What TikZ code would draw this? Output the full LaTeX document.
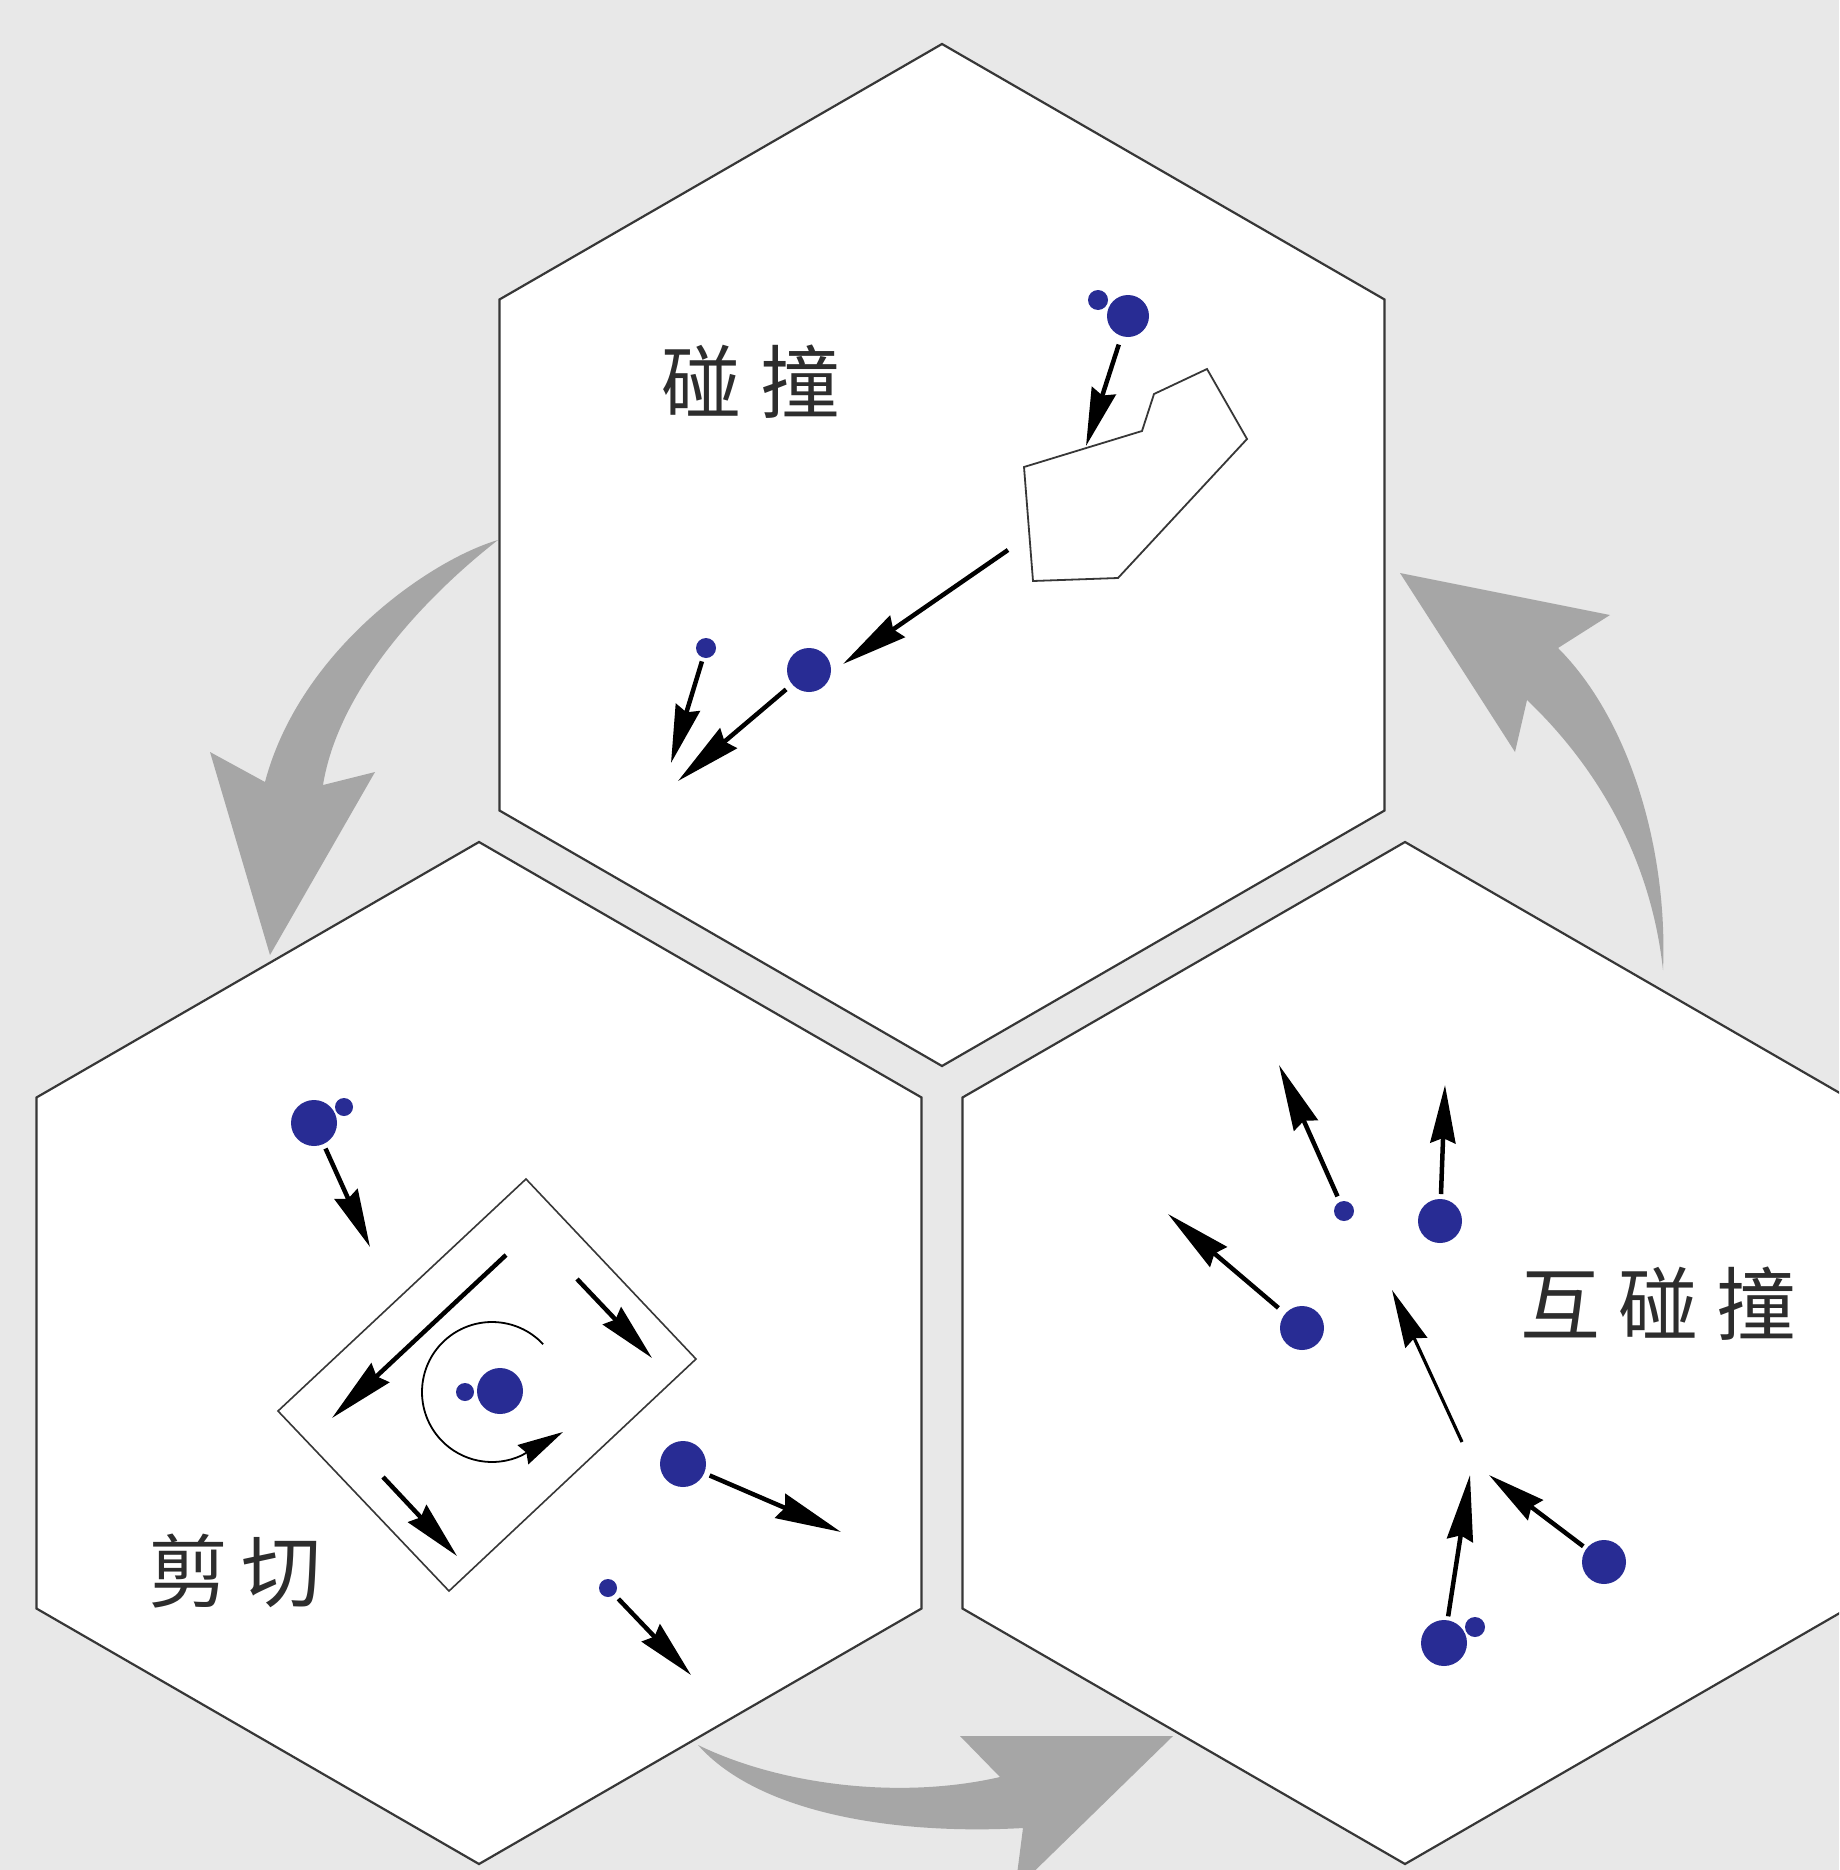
\documentclass[tikz,border=0pt]{standalone}
\usepackage{fontspec}
\newfontfamily\cjk{Noto Sans CJK SC}
\usetikzlibrary{arrows.meta}
\definecolor{bg}{RGB}{232,232,232}
\definecolor{garrow}{RGB}{166,166,166}
\definecolor{hexline}{RGB}{55,55,55}
\definecolor{ballblue}{RGB}{40,44,148}
\definecolor{txt}{RGB}{45,45,45}
\begin{document}
\begin{tikzpicture}[x=1pt,y=-1pt,
  hex/.style={draw=hexline, fill=white, line width=2.2pt, line join=miter},
  outline/.style={draw=hexline, fill=white, line width=1.8pt, line join=miter},
  ball/.style={circle, fill=ballblue, draw=none, inner sep=0pt, outer sep=0pt, minimum size=#1},
  ball/.default=44pt,
  arr/.style={line width=4.5pt, -{Stealth[length=58pt,width=25pt,inset=5pt]}},
  longarr/.style={line width=4.5pt, -{Stealth[length=66pt,width=26pt,inset=5pt]}},
  thinarr/.style={line width=3.2pt, -{Stealth[length=58pt,width=24pt,inset=5pt]}},
  arcarr/.style={line width=1.8pt, -{Stealth[length=46pt,width=22pt,inset=4pt]}},
  lbl/.style={font=\cjk\fontsize{80pt}{80pt}\selectfont, text=txt, inner sep=0pt, text height=70.4pt, text depth=9.6pt},
  hexpic/.pic={\path[hex] (90:511) -- (30:511) -- (-30:511) -- (-90:511) -- (-150:511) -- (150:511) -- cycle;}
]
\useasboundingbox (0,0) rectangle (1839,1870);
\clip (0,0) rectangle (1839,1870);
\fill[bg] (0,0) rectangle (1839,1870);

% grey cycle arrows
\fill[garrow] (498,540) .. controls (430,560) and (300,650) .. (265,782) -- (210,752) -- (270,955) -- (375,772) -- (323,785) .. controls (340,680) and (440,585) .. (498,540) -- cycle;
\fill[garrow] (1663,970) .. controls (1668,850) and (1630,720) .. (1558,648) -- (1610,615) -- (1400,573) -- (1515,752) -- (1527,700) .. controls (1590,760) and (1650,850) .. (1663,970) -- cycle;
\fill[garrow] (698,1745) .. controls (780,1785) and (900,1800) .. (1000,1777) -- (960,1736) -- (1173,1736) -- (1015,1890) -- (1023,1828) .. controls (900,1835) and (760,1815) .. (698,1745) -- cycle;

% hexagons
\pic at (942,555) {hexpic};
\pic at (479,1353) {hexpic};
\pic at (1405,1353) {hexpic};

% ---------- top: collision ----------
\node[lbl] (n1) at (751,382) {碰\hspace{19pt}撞};
\path[outline] (1024,467) -- (1142,431) -- (1154,394) -- (1207,369) -- (1247,439) -- (1118,578) -- (1033,581) -- cycle;
\node[ball=20pt] (t1s) at (1098,300) {};
\node[ball=42pt] (t1) at (1128,316) {};
\coordinate (t1tip) at (1086,446);
\draw[arr, shorten <=9pt] (t1) -- (t1tip);
\coordinate (t2s) at (1008,550);
\coordinate (t2tip) at (843,664);
\draw[longarr] (t2s) -- (t2tip);
\node[ball=44pt] (t3) at (809,670) {};
\coordinate (t3tip) at (678,781);
\draw[longarr, shorten <=8pt] (t3) -- (t3tip);
\node[ball=20pt] (t4) at (706,648) {};
\coordinate (t4tip) at (671,763);
\draw[arr, shorten <=4pt] (t4) -- (t4tip);

% ---------- bottom left: shear ----------
\node[lbl] (n2) at (235,1571) {剪\hspace{13pt}切};
\node[ball=46pt] (l1) at (314,1123) {};
\node[ball=18pt] (l1s) at (344,1107) {};
\coordinate (l1tip) at (370,1247);
\draw[arr, shorten <=5pt] (l1) -- (l1tip);
\path[draw=hexline, line width=1.6pt, line join=miter] (526,1179) -- (696,1359) -- (449,1591) -- (278,1411) -- cycle;
\coordinate (b1s) at (506,1255); \coordinate (b1t) at (332,1418);
\coordinate (b2s) at (577,1279); \coordinate (b2t) at (652,1358);
\coordinate (b3s) at (383,1477); \coordinate (b3t) at (457,1556);
\draw[longarr] (b1s) -- (b1t);
\draw[arr] (b2s) -- (b2t);
\draw[arr] (b3s) -- (b3t);
\coordinate (rotc) at (492,1392);
\coordinate (rottip) at (563,1432);
\draw[arcarr] ([shift={(-43:70)}]rotc) arc[start angle=-43, end angle=-295, radius=70] -- (rottip);
\node[ball=46pt] (l2) at (500,1391) {};
\node[ball=18pt] (l2s) at (465,1392) {};
\node[ball=46pt] (l3) at (683,1464) {};
\coordinate (l3tip) at (841,1532);
\draw[longarr, shorten <=6pt] (l3) -- (l3tip);
\node[ball=18pt] (l4) at (608,1588) {};
\coordinate (l4tip) at (691,1675);
\draw[arr, shorten <=6pt] (l4) -- (l4tip);

% ---------- bottom right: mutual collision ----------
\node[lbl] (n3) at (1658,1304) {互\hspace{18pt}碰\hspace{18pt}撞};
\node[ball=20pt] (r1) at (1344,1211) {};
\coordinate (r1tip) at (1279,1065);
\draw[longarr, shorten <=6pt] (r1) -- (r1tip);
\node[ball=44pt] (r2) at (1440,1221) {};
\coordinate (r2tip) at (1445,1085);
\draw[arr, shorten <=5pt] (r2) -- (r2tip);
\node[ball=44pt] (r3) at (1302,1328) {};
\coordinate (r3tip) at (1168,1214);
\draw[longarr, shorten <=9pt] (r3) -- (r3tip);
\coordinate (rcs) at (1462,1442);
\coordinate (rct) at (1392,1290);
\draw[thinarr] (rcs) -- (rct);
\node[ball=44pt] (r4) at (1604,1562) {};
\coordinate (r4tip) at (1489,1475);
\draw[arr, shorten <=4pt] (r4) -- (r4tip);
\node[ball=46pt] (r5) at (1444,1643) {};
\node[ball=20pt] (r5s) at (1475,1627) {};
\coordinate (r5tip) at (1470,1475);
\draw[longarr, shorten <=4pt] (r5) -- (r5tip);
\end{tikzpicture}
\end{document}
